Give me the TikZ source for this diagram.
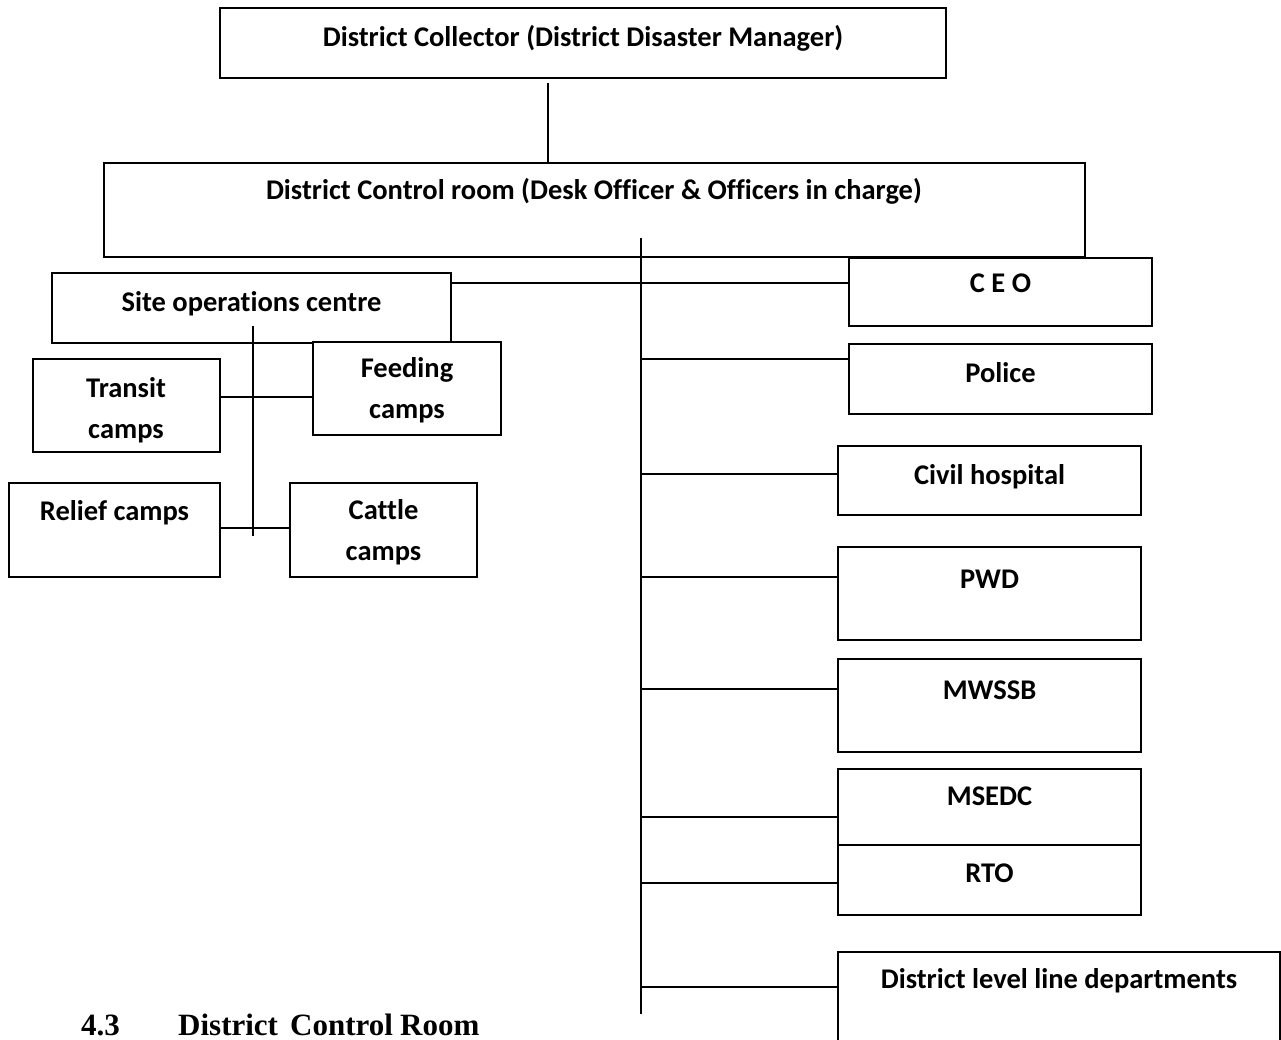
\documentclass[tikz,border=0pt]{standalone}
\usepackage{fontspec}
\setmainfont{Carlito}[Ligatures=NoCommon]
\newfontfamily\headfont{Liberation Serif}
\usetikzlibrary{fit}

\begin{document}
\begin{tikzpicture}[x=1pt,y=-1pt,
  orgbox/.style={draw, line width=2pt, inner sep=0pt, fill=white},
  lbl/.style={anchor=base, inner sep=0pt, align=center,
    font=\fontsize{28.5}{40.5}\selectfont\bfseries},
  link/.style={line width=1.6pt},
  head/.style={anchor=base west, inner sep=0pt,
    font=\fontsize{31}{36}\selectfont\headfont\bfseries}]
\useasboundingbox (0,0) rectangle (1281,1040);

% top of the hierarchy
\node[orgbox, fit={(220,8) (946,78)}] (coll) {};
\node[lbl] (coll-t) at (583,47) {District Collector (District Disaster Manager)};

\node[orgbox, fit={(104,163) (1085,257)}] (ctrl) {};
\node[lbl] (ctrl-t) at (594,200) {District Control room (Desk Officer \& Officers in charge)};

\draw[link] (coll.south -| 548,0) ++(0,4) -- (ctrl.north -| 548,0);

% main trunk
\coordinate (trunkTop) at (641,238);
\coordinate (trunkBot) at (641,1014);
\draw[link] (trunkTop) -- (trunkBot);

% site operations branch (two-line labels sit on their last baseline)
\node[orgbox, fit={(52,273) (451,343)}] (site) {};
\node[lbl] (site-t) at (251.5,312) {Site operations centre};
\coordinate (siteTop) at (253,326);
\coordinate (siteBot) at (253,536);
\draw[link] (siteTop) -- (siteBot);

\node[orgbox, fit={(33,359) (220,452)}] (transit) {};
\node[lbl] (transit-t) at (126,438) {Transit\\camps};
\node[orgbox, fit={(313,342) (501,435)}] (feed) {};
\node[lbl] (feed-t) at (407,418) {Feeding\\camps};
\node[orgbox, fit={(9,483) (220,577)}] (relief) {};
\node[lbl] (relief-t) at (114.5,520) {Relief camps};
\node[orgbox, fit={(290,483) (477,577)}] (cattle) {};
\node[lbl] (cattle-t) at (383.5,560) {Cattle\\camps};

\draw[link] (transit.east |- 0,397) -- (feed.west |- 0,397);
\draw[link] (relief.east |- 0,528) -- (cattle.west |- 0,528);

% departments on the right
\node[orgbox, fit={(849,258) (1152,326)}] (ceo) {};
\node[lbl] (ceo-t) at (1000.5,293) {C E O};
\node[orgbox, fit={(849,344) (1152,414)}] (police) {};
\node[lbl] (police-t) at (1000.5,382) {Police};
\node[orgbox, fit={(838,446) (1141,515)}] (civil) {};
\node[lbl] (civil-t) at (989.5,484) {Civil hospital};
\node[orgbox, fit={(838,547) (1141,640)}] (pwd) {};
\node[lbl] (pwd-t) at (989.5,588) {PWD};
\node[orgbox, fit={(838,659) (1141,752)}] (mwssb) {};
\node[lbl] (mwssb-t) at (989.5,699) {MWSSB};
\node[orgbox, fit={(838,769) (1141,845)}] (msedc) {};
\node[lbl] (msedc-t) at (989.5,805) {MSEDC};
\node[orgbox, fit={(838,845) (1141,915)}] (rto) {};
\node[lbl] (rto-t) at (989.5,882) {RTO};
\node[orgbox, fit={(838,952) (1280,1070)}] (dlld) {};
\node[lbl] (dlld-t) at (1059,988) {District level line departments};

\draw[link] (site.east |- 0,283) -- (ceo.west |- 0,283);
\draw[link] (trunkTop |- 0,359) -- (police.west |- 0,359);
\draw[link] (trunkTop |- 0,474) -- (civil.west |- 0,474);
\draw[link] (trunkTop |- 0,577) -- (pwd.west |- 0,577);
\draw[link] (trunkTop |- 0,689) -- (mwssb.west |- 0,689);
\draw[link] (trunkTop |- 0,817) -- (msedc.west |- 0,817);
\draw[link] (trunkTop |- 0,883) -- (rto.west |- 0,883);
\draw[link] (trunkTop |- 0,987) -- (dlld.west |- 0,987);

% section heading
\node[head] (h-num) at (81,1035) {4.3};
\node[head] (h-w1) at (178,1035) {District};
\node[head] (h-w2) at (290,1035) {Control};
\node[head] (h-w3) at (400,1035) {Room};
\end{tikzpicture}
\end{document}
